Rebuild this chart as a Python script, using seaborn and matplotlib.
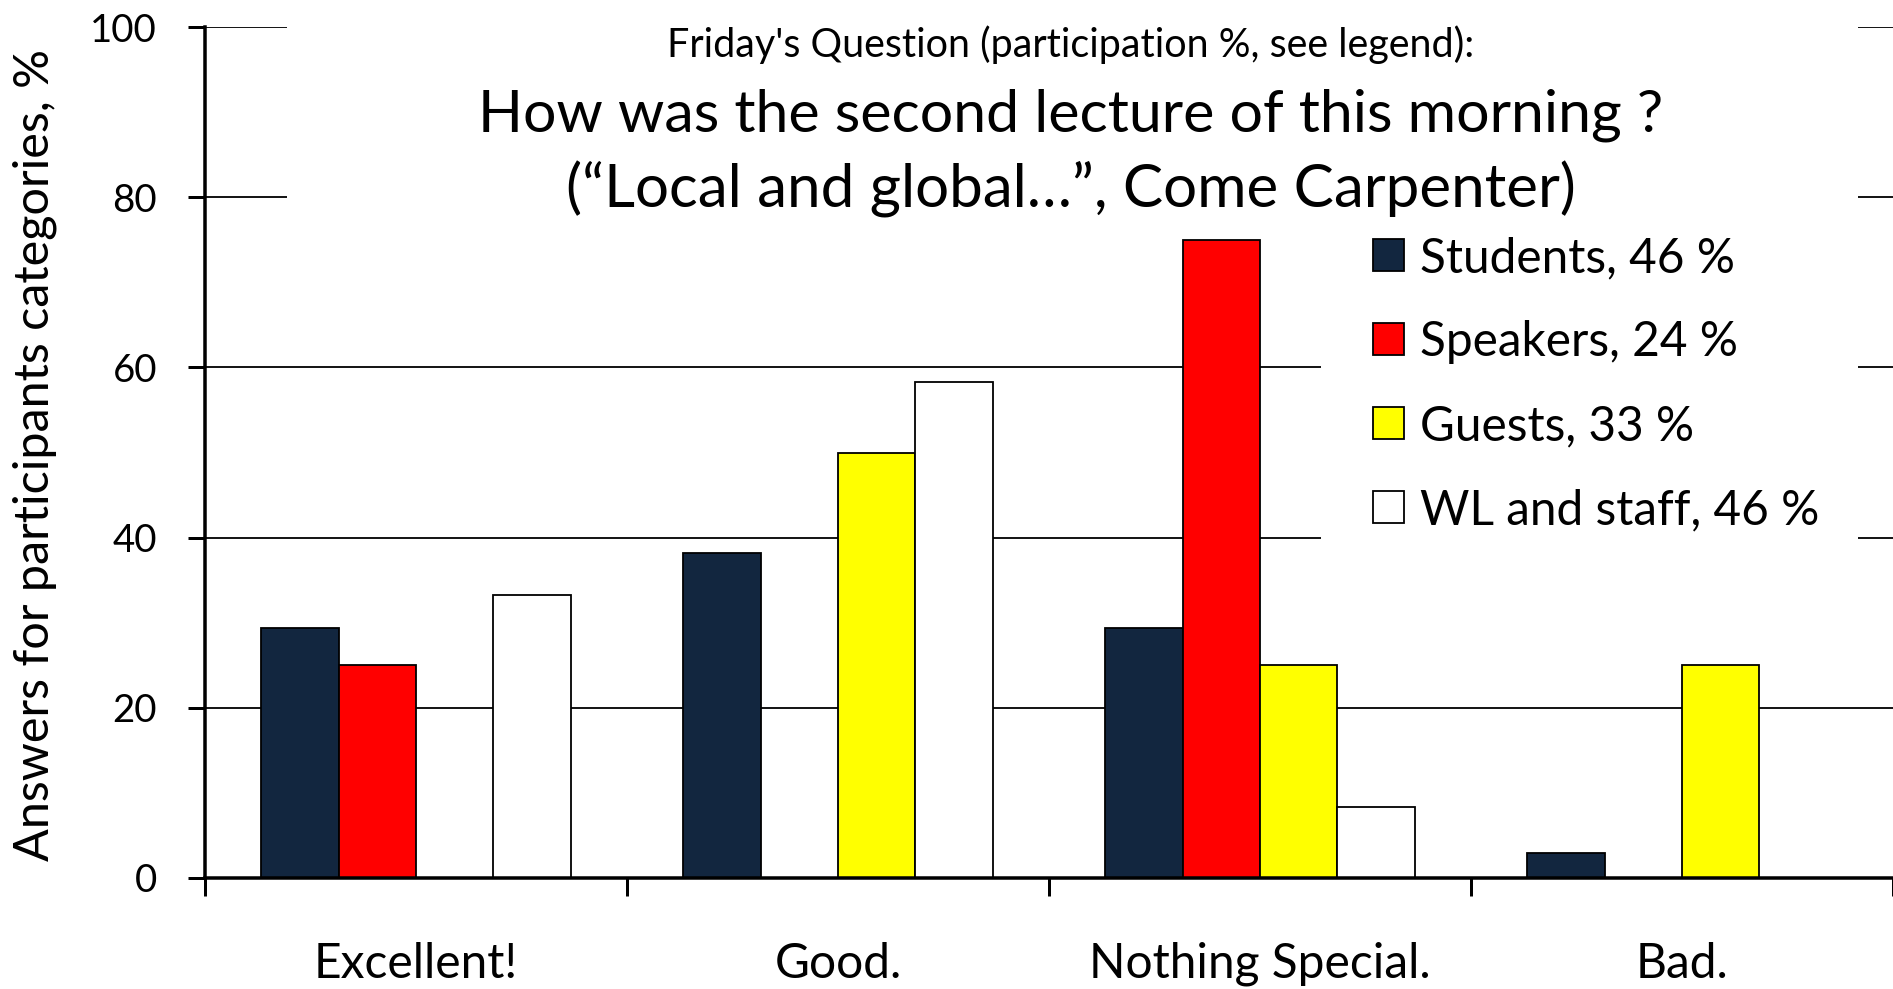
import numpy as np
import pandas as pd
import matplotlib
matplotlib.use("Agg")
import matplotlib.pyplot as plt
import seaborn as sns
from matplotlib.patches import Rectangle, Patch
from matplotlib.ticker import FixedLocator

# ---------------- data ----------------
categories = ["Excellent!", "Good.", "Nothing Special.", "Bad."]
series_labels = ["Students, 46 %", "Speakers, 24 %", "Guests, 33 %", "WL and staff, 46 %"]
students = [29.4, 38.2, 29.4, 2.9]
speakers = [25.0, 0.0, 75.0, 0.0]
guests = [0.0, 50.0, 25.0, 25.0]
wl_staff = [33.3, 58.3, 8.3, 0.0]
series_colors = ["#12263F", "#FF0000", "#FFFF00", "#FFFFFF"]
y_ticks = [0, 20, 40, 60, 80, 100]
subtitle = "Friday's Question (participation %, see legend):"
title_line1 = "How was the second lecture of this morning ?"
title_line2 = "(\u201cLocal and global\u2026\u201d, Come Carpenter)"
y_label = "Answers for participants categories, %"

rows = []
for name, vals in zip(series_labels, [students, speakers, guests, wl_staff]):
    for c, v in zip(categories, vals):
        rows.append((c, name, v))
df = pd.DataFrame(rows, columns=["category", "group", "value"])

# ---------------- style ----------------
sns.set_theme(style="white")
plt.rcParams["font.family"] = ["Lato", "DejaVu Sans"]

W, H = 1893, 989
PT = 72.0 / 100.0  # points per pixel at dpi 100
fig = plt.figure(figsize=(W / 100, H / 100), dpi=100)
fig.patch.set_facecolor("white")
renderer = fig.canvas.get_renderer()


def fitted_size(text, size, target_px):
    t = fig.text(0, 0, text, fontsize=size)
    w = t.get_window_extent(renderer=renderer).width
    t.remove()
    return size * target_px / w


sub_fs = fitted_size(subtitle, 24, 809)
t1_fs = fitted_size(title_line1, 40, 1185)
t2_fs = fitted_size(title_line2, 40, 1009)
leg_fs = fitted_size("Students, 46 %", 36, 315)
xt_fs = fitted_size("Excellent!", 36, 204)
yt_fs = fitted_size("100", 30, 67)
yl_fs = fitted_size(y_label, 36, 815)

ax_left, ax_top, ax_bottom = 205, 27, 878
ax = fig.add_axes([ax_left / W, (H - ax_bottom) / H, (W - ax_left) / W, (ax_bottom - ax_top) / H])
ax.set_facecolor("white")

sns.barplot(data=df, x="category", y="value", hue="group",
            order=categories, hue_order=series_labels, palette=series_colors,
            width=0.733, saturation=1, edgecolor="black", linewidth=1.3,
            zorder=2, ax=ax, legend=False)

ax.set_xlim(-0.5, 3.5)
ax.set_ylim(0, 100)
ax.set_axisbelow(True)
ax.set_yticks(y_ticks)
ax.yaxis.grid(True, color="black", linewidth=1.3)
ax.xaxis.grid(False)

for s in ["top", "right"]:
    ax.spines[s].set_visible(False)
for s in ["left", "bottom"]:
    ax.spines[s].set_color("black")
    ax.spines[s].set_linewidth(3.5 * PT)

# y ticks
ax.tick_params(axis="y", which="major", direction="out", left=True, length=17 * PT,
               width=3 * PT, color="black", pad=31 * PT, labelsize=yt_fs, labelcolor="black")
# x: labels at category centres, ticks at category boundaries
ax.tick_params(axis="x", which="major", length=0, pad=100 * PT, labelsize=xt_fs, labelcolor="black")
ax.xaxis.set_minor_locator(FixedLocator(np.arange(-0.5, 4.0, 1.0)))
ax.tick_params(axis="x", which="minor", direction="out", bottom=True, length=18 * PT,
               width=3 * PT, color="black")
ax.set_xlabel("")
for lab in ax.get_xticklabels():
    lab.set_va("baseline")

ax.set_ylabel(y_label, fontsize=yl_fs, color="black", va="center", ha="center")
ax.yaxis.set_label_coords((35 - ax_left) / (W - ax_left), (ax_bottom - 455) / (ax_bottom - ax_top))

# white boxes behind title and legend (hide gridlines there)
ax.add_artist(Rectangle((287 / W, 1 - 225 / H), (1858 - 287) / W, 225 / H,
                        transform=fig.transFigure, facecolor="white", edgecolor="none",
                        zorder=1, clip_on=False))
ax.add_artist(Rectangle((1321 / W, 1 - 555 / H), (1858 - 1321) / W, (555 - 225) / H,
                        transform=fig.transFigure, facecolor="white", edgecolor="none",
                        zorder=1, clip_on=False))

# titles
cx = 1071 / W
fig.text(cx, 1 - 57 / H, subtitle, fontsize=sub_fs, ha="center", va="baseline", color="black")
fig.text(cx, 1 - 131 / H, title_line1, fontsize=t1_fs, ha="center", va="baseline", color="black")
fig.text(cx, 1 - 208 / H, title_line2, fontsize=t2_fs, ha="center", va="baseline", color="black")

# legend
leg_px = leg_fs / PT
handles = [Patch(facecolor=c, edgecolor="black", linewidth=1.3) for c in series_colors]
row_gap_target = 84.0  # px between legend rows


def make_legend(spacing):
    lg = fig.legend(handles, series_labels, loc="center left",
                    bbox_to_anchor=(1373 / W, 1 - 384 / H), bbox_transform=fig.transFigure,
                    frameon=False, borderpad=0, borderaxespad=0, fontsize=leg_fs,
                    handlelength=31 / leg_px, handleheight=31 / leg_px,
                    handletextpad=16 / leg_px, labelspacing=spacing)
    for t in lg.get_texts():
        t.set_color("black")
    return lg


spacing = 0.5
leg = make_legend(spacing)
fig.canvas.draw()
ys = [t.get_window_extent(renderer=fig.canvas.get_renderer()).y0 for t in leg.get_texts()]
gap = (ys[0] - ys[-1]) / 3.0
leg.remove()
spacing = spacing + (row_gap_target - gap) / leg_px
leg = make_legend(spacing)

fig.savefig("out.png", dpi=100, facecolor="white")
